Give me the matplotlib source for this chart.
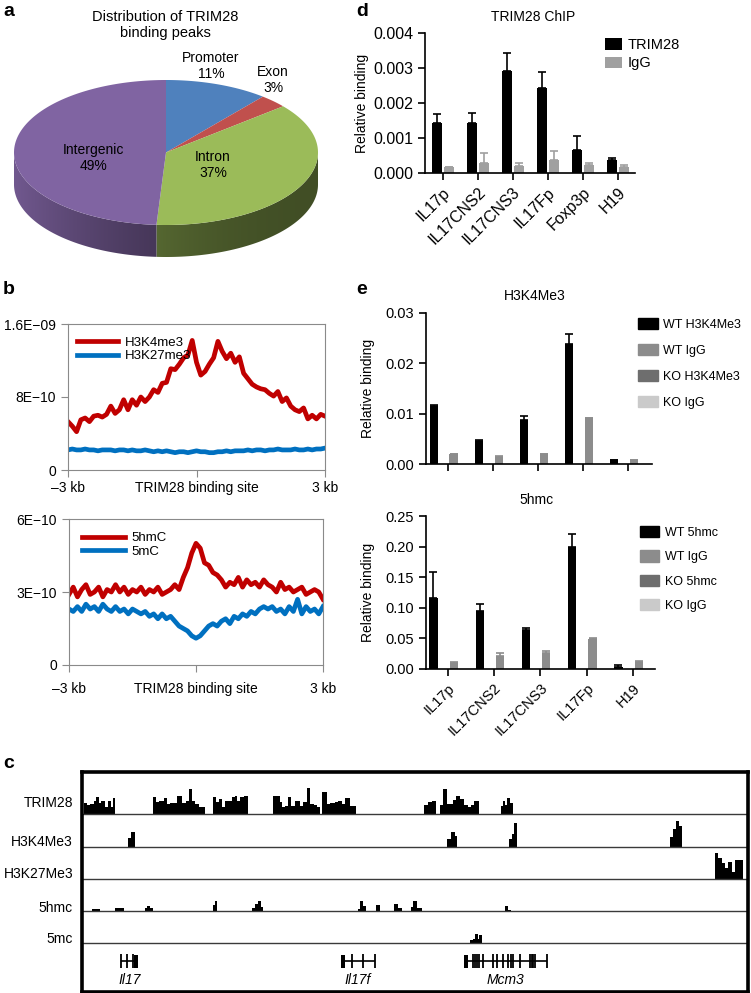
import numpy as np
import matplotlib
matplotlib.use('Agg')
import matplotlib.pyplot as plt
from matplotlib.patches import Polygon, Patch
import matplotlib.colors as mcolors

plt.rcParams['font.family'] = ['Liberation Sans', 'DejaVu Sans']

# ---------------- DATA ----------------
# panel a
pie_labels = ['Promoter', 'Exon', 'Intron', 'Intergenic']
pie_values = [11, 3, 37, 49]
pie_colors = ['#4F81BD', '#C0504D', '#9BBB59', '#8064A2']

# panel b (units of 1e-10), -3 kb .. 3 kb, step 0.1 kb
prof_x = np.linspace(-3, 3, 61)
h3k4me3 = [5.3, 4.8, 4.2, 5.5, 5.7, 5.3, 5.9, 6.0, 5.8, 6.1,
           7.0, 6.2, 6.6, 7.7, 6.6, 7.7, 7.1, 8.0, 7.5, 8.0,
           8.8, 8.5, 9.5, 9.6, 11.1, 11.0, 11.6, 12.3, 12.6, 14.2,
           11.8, 10.4, 10.8, 11.6, 12.3, 14.1, 13.0, 12.2, 12.8, 11.8,
           12.4, 10.6, 10.0, 9.4, 9.1, 8.9, 8.8, 8.4, 8.1, 8.6,
           7.5, 7.9, 7.0, 6.6, 6.4, 6.8, 5.6, 6.0, 5.6, 6.1, 5.9]
h3k27me3 = [2.2, 2.3, 2.2, 2.2, 2.3, 2.2, 2.2, 2.1, 2.2, 2.2,
            2.2, 2.1, 2.2, 2.2, 2.1, 2.2, 2.1, 2.1, 2.2, 2.1,
            2.0, 2.1, 2.0, 2.1, 2.0, 1.9, 2.0, 2.0, 1.9, 2.0,
            2.1, 2.0, 2.0, 1.9, 1.9, 2.0, 2.0, 2.1, 2.0, 2.1,
            2.1, 2.1, 2.2, 2.1, 2.2, 2.2, 2.1, 2.2, 2.2, 2.3,
            2.2, 2.2, 2.2, 2.3, 2.2, 2.2, 2.3, 2.2, 2.3, 2.3, 2.4]
hmc5 = [2.9, 3.2, 2.8, 3.1, 3.3, 2.9, 3.0, 3.2, 2.8, 3.1,
        3.0, 3.3, 3.0, 3.2, 2.9, 3.1, 3.0, 3.2, 2.9, 3.1,
        3.0, 3.2, 2.9, 3.0, 3.1, 3.3, 3.1, 3.6, 4.0, 4.6,
        5.0, 4.8, 4.2, 4.1, 3.8, 3.7, 3.5, 3.2, 3.4, 3.3,
        3.6, 3.2, 3.5, 3.3, 3.4, 3.2, 3.5, 3.3, 3.2, 3.0,
        3.4, 3.1, 3.2, 3.0, 3.1, 3.2, 2.9, 3.0, 3.1, 3.0, 2.7]
mc5 = [2.3, 2.2, 2.4, 2.2, 2.5, 2.3, 2.4, 2.2, 2.5, 2.3,
       2.2, 2.4, 2.2, 2.3, 2.1, 2.3, 2.2, 2.1, 2.2, 2.0,
       2.1, 1.9, 2.1, 1.9, 2.0, 1.8, 1.6, 1.5, 1.4, 1.2,
       1.1, 1.2, 1.4, 1.6, 1.7, 1.6, 1.8, 1.9, 1.7, 2.0,
       1.9, 2.1, 2.0, 2.2, 2.1, 2.3, 2.4, 2.3, 2.4, 2.2,
       2.3, 2.1, 2.4, 2.2, 2.7, 2.1, 2.4, 2.2, 2.3, 2.1, 2.4]

# panel d
d_cats = ['IL17p', 'IL17CNS2', 'IL17CNS3', 'IL17Fp', 'Foxp3p', 'H19']
d_trim28 = [0.00143, 0.00143, 0.00292, 0.00243, 0.00066, 0.00036]
d_trim28_err = [0.00025, 0.00028, 0.00050, 0.00046, 0.00040, 0.00006]
d_igg = [0.00017, 0.00028, 0.00021, 0.00037, 0.00022, 0.00018]
d_igg_err = [0.0, 0.00029, 0.00009, 0.00027, 0.00006, 0.00004]

# panel e
e_cats = ['IL17p', 'IL17CNS2', 'IL17CNS3', 'IL17Fp', 'H19']
h3_wt = [0.0116, 0.0046, 0.0088, 0.0238, 0.0008]
h3_wt_err = [0.0002, 0.0002, 0.0008, 0.0020, 0.0]
h3_igg = [0.0020, 0.0013, 0.0020, 0.0091, 0.0007]
h3_igg_err = [0.0, 0.0003, 0.0, 0.0, 0.0]
hm_wt = [0.1155, 0.0954, 0.0630, 0.1996, 0.0033]
hm_wt_err = [0.0425, 0.0106, 0.0037, 0.0204, 0.0027]
hm_igg = [0.0092, 0.0217, 0.0260, 0.0488, 0.0114]
hm_igg_err = [0.0018, 0.0043, 0.0038, 0.0011, 0.0022]

# panel c: genome browser (locus position 0-100, segment start, end, signal)
trim28_peaks = [
    (0.25, 0.75, 10.7), (0.75, 1.25, 9.3), (1.25, 1.75, 10), (1.75, 2.1, 12.7), (2.1, 2.5, 16.7),
    (2.5, 2.9, 10.7), (2.9, 3.4, 12.7), (3.4, 3.9, 7.3), (3.9, 4.4, 12.7), (4.4, 4.6, 7.3), (4.6, 5.0, 16),
    (10.6, 11.1, 16.7), (11.1, 11.6, 11.7), (11.6, 12.25, 13.3), (12.25, 12.75, 16), (12.75, 13.25, 10),
    (13.25, 14.25, 10.7), (14.25, 15.0, 18.3), (15.0, 15.6, 10.7), (15.6, 16.1, 13.3), (16.1, 16.5, 25),
    (16.5, 17.0, 13.3), (17.0, 17.5, 10), (17.5, 18.0, 7.3), (18.0, 18.4, 6.7),
    (19.65, 20.1, 16.7), (20.1, 20.5, 11.7), (20.5, 21.0, 15), (21.0, 21.5, 6.7), (21.5, 22.0, 12.7),
    (22.0, 22.5, 12.7), (22.5, 22.9, 16.7), (22.9, 23.25, 18.3), (23.25, 23.75, 13.3), (23.75, 24.25, 17.3),
    (24.25, 24.85, 18.3),
    (28.75, 29.75, 18.3), (29.75, 30.0, 11.7), (30.0, 30.5, 6.7), (30.5, 31.0, 8.3), (31.0, 31.4, 17.3),
    (31.4, 32.0, 8.3), (32.0, 32.4, 12.7), (32.4, 32.75, 13.3), (32.75, 33.25, 8.3), (33.25, 33.8, 11.7),
    (33.8, 34.3, 26), (34.3, 34.8, 10), (34.8, 35.3, 9.3), (35.3, 35.8, 6.7), (36.1, 36.75, 21.7),
    (36.75, 37.25, 10), (37.25, 38.0, 10.7), (38.0, 38.5, 11.7), (38.5, 39.0, 12.7), (39.0, 39.5, 10),
    (39.5, 40.25, 16), (40.25, 41.1, 8.3),
    (51.35, 52.0, 9.3), (52.0, 52.5, 11.7), (52.5, 53.1, 12.7), (53.75, 54.15, 9.3), (54.15, 54.85, 25),
    (54.85, 55.65, 10), (55.65, 56.15, 14), (56.15, 56.75, 18.3), (56.75, 57.35, 15), (57.35, 58.0, 9.3),
    (58.0, 58.4, 7.3), (58.4, 58.9, 9.3), (58.9, 59.65, 12.7),
    (62.85, 63.15, 8.3), (63.15, 63.5, 12.7), (63.5, 63.85, 9.3), (63.85, 64.25, 16), (64.25, 64.65, 10.7),
]
h3k4_peaks = [
    (6.85, 7.4, 8.7), (7.4, 7.9, 14.3),
    (54.75, 55.4, 7.7), (55.4, 56.0, 14.3), (56.0, 56.35, 11),
    (64.15, 64.5, 7.7), (64.5, 64.9, 12.7), (64.9, 65.35, 23.3),
    (88.3, 88.8, 9.3), (88.8, 89.2, 17.7), (89.2, 89.7, 26), (89.7, 90.05, 21),
]
h3k27_peaks = [
    (95.05, 95.55, 25.7), (95.55, 96.05, 21), (96.05, 96.55, 15.7), (96.55, 97.05, 11),
    (97.05, 97.55, 16.7), (97.55, 98.05, 6.7), (98.05, 98.55, 19), (98.55, 99.3, 19),
]
hmc_peaks = [
    (1.5, 2.75, 2.3), (5.0, 5.5, 2.7), (5.5, 6.25, 3.3),
    (9.4, 9.75, 3), (9.75, 10.25, 5.3), (10.25, 10.6, 3.5),
    (19.65, 19.9, 5.7), (19.9, 20.3, 10),
    (25.5, 26.0, 3.3), (26.0, 26.4, 7.3), (26.4, 26.9, 10), (26.9, 27.25, 4),
    (41.4, 41.75, 2.3), (41.75, 42.25, 10), (42.25, 42.6, 4.7),
    (44.1, 44.75, 5.7),
    (46.9, 47.4, 7.3), (47.4, 48.1, 3.3),
    (49.4, 49.75, 4), (49.75, 50.25, 10), (50.25, 51.0, 3.3),
    (63.5, 64.0, 5.3), (64.0, 64.4, 1.3),
]
mc_peaks = [
    (58.25, 58.75, 3.3), (58.75, 59.0, 4.3), (59.0, 59.4, 8.7), (59.4, 59.65, 4.3), (59.65, 60.0, 7.7),
]
track_names = ['TRIM28', 'H3K4Me3', 'H3K27Me3', '5hmc', '5mc']
gene_names = ['Il17', 'Il17f', 'Mcm3']
gene_spans = [(5.9, 8.35), (38.9, 44.0), (57.4, 69.75)]
gene_exons = [[5.9, 6.75, 7.6],
              [40.6, 42.25, 44.0],
              [58.75, 59.0, 59.3, 59.6, 60.25, 61.75, 62.25, 63.25, 64.0, 64.4, 64.75,
               65.75, 67.25, 67.5, 67.75, 68.0, 69.75]]
gene_blocks = [(7.85, 8.35), (38.9, 39.5), (57.4, 58.0)]

# ---------------- FIGURE ----------------
W, H = 751, 993
fig = plt.figure(figsize=(W / 100, H / 100), dpi=100)


def rect(x0, y0, x1, y1):
    return [x0 / W, 1 - y1 / H, (x1 - x0) / W, (y1 - y0) / H]


def ftext(x, y, s, **kw):
    return fig.text(x / W, 1 - y / H, s, **kw)


# panel labels
for lab, (lx, ly) in zip('abcde', [(9, 12), (9, 290), (9, 764), (362, 11), (362, 290)]):
    ftext(lx, ly, lab, fontsize=14, fontweight='bold', ha='center', va='center')

# ---- panel a: 3D-like pie ----
axa = fig.add_axes(rect(0, 0, 340, 270))
cx, cy, ra, rb, depth = 166, 152.5, 152, 72.5, 32
fr = np.array(pie_values, float) / sum(pie_values)
bounds = np.concatenate([[0], np.cumsum(fr)]) * 2 * np.pi


def ell(t):
    return cx + ra * np.sin(t), cy - rb * np.cos(t)


svals = np.linspace(0, 1, 300)
shade = 0.42 + 0.46 * (1 - svals) ** 2
for i in range(len(pie_values)):
    t0, t1 = max(bounds[i], np.pi / 2), min(bounds[i + 1], 1.5 * np.pi)
    if t1 <= t0:
        continue
    ts = np.linspace(t0, t1, 200)
    xs, ys = ell(ts)
    pts = list(zip(xs, ys)) + list(zip(xs[::-1], ys[::-1] + depth))
    side = Polygon(pts, closed=True, facecolor='none', edgecolor='none')
    axa.add_patch(side)
    base = np.array(mcolors.to_rgb(pie_colors[i]))
    img = np.clip(shade[None, :, None] * base[None, None, :], 0, 1)
    im = axa.imshow(img, extent=(cx - ra, cx + ra, cy + rb + depth + 2, cy - 2),
                    aspect='auto', interpolation='bilinear', zorder=1)
    im.set_clip_path(side)
for i in range(len(pie_values)):
    ts = np.linspace(bounds[i], bounds[i + 1], 120)
    xs, ys = ell(ts)
    pts = [(cx, cy)] + list(zip(xs, ys))
    axa.add_patch(Polygon(pts, closed=True, facecolor=pie_colors[i], edgecolor='none', zorder=2))

pie_label_pos = [(211, 66), (273, 80), (213, 165), (93, 158)]
for lab, v, (lx, ly) in zip(pie_labels, pie_values, pie_label_pos):
    axa.text(lx, ly, f'{lab}\n{v}%', ha='center', va='center', fontsize=10, linespacing=1.15,
             zorder=3)
axa.set_xlim(0, 340)
axa.set_ylim(270, 0)
axa.axis('off')
ftext(165, 25, 'Distribution of TRIM28\nbinding peaks', ha='center', va='center',
      fontsize=10.5, linespacing=1.2)

# ---- panel b ----
red, blue = '#C00000', '#0070C0'


def style_profile(ax, pad_x):
    for sp in ax.spines.values():
        sp.set_color('#8a8a8a')
        sp.set_linewidth(0.8)
    ax.tick_params(axis='both', direction='out', length=5, width=0.8, color='#8a8a8a',
                   labelsize=10)
    ax.tick_params(axis='x', pad=pad_x)
    ax.set_xlim(-3, 3)
    ax.set_xticks([-3, 0, 3])
    ax.set_xticklabels(['–3 kb', 'TRIM28 binding site', '3 kb'])


axb1 = fig.add_axes(rect(68, 324, 325, 470))
axb1.plot(prof_x, np.array(h3k4me3) * 1e-10, color=red, lw=3.4, label='H3K4me3')
axb1.plot(prof_x, np.array(h3k27me3) * 1e-10, color=blue, lw=3.4, label='H3K27me3')
axb1.set_ylim(0, 1.6e-9)
axb1.set_yticks([0, 8e-10, 1.6e-9])
axb1.set_yticklabels(['0', '8E\u221210', '1.6E\u221209'])
style_profile(axb1, 3)
axb1.legend(loc='upper left', bbox_to_anchor=(0.035, 0.915), frameon=False, handlelength=3.1,
            fontsize=9.5, labelspacing=0.1, borderaxespad=0, borderpad=0, handletextpad=0.5)

axb2 = fig.add_axes(rect(69, 519, 323, 665))
axb2.plot(prof_x, np.array(hmc5) * 1e-10, color=red, lw=3.4, label='5hmC')
axb2.plot(prof_x, np.array(mc5) * 1e-10, color=blue, lw=3.4, label='5mC')
axb2.set_ylim(0, 6e-10)
axb2.set_yticks([0, 3e-10, 6e-10])
axb2.set_yticklabels(['0', '3E\u221210', '6E\u221210'])
style_profile(axb2, 7)
axb2.legend(loc='upper left', bbox_to_anchor=(0.05, 0.91), frameon=False, handlelength=3.3,
            fontsize=9.5, labelspacing=0.1, borderaxespad=0, borderpad=0, handletextpad=0.5)


# ---- bar panels ----
def style_bar(ax, fs):
    for s in ['top', 'right']:
        ax.spines[s].set_visible(False)
    for s in ['left', 'bottom']:
        ax.spines[s].set_linewidth(1.2)
    ax.tick_params(axis='both', direction='out', length=5, width=1.2, labelsize=fs)


def draw_err(ax, x, y, err, color):
    n = len(y)
    ax.errorbar(x, y, yerr=[np.zeros(n), err], fmt='none', ecolor=color,
                elinewidth=1.2, capsize=3, capthick=1.2)


# panel d
axd = fig.add_axes(rect(425, 33, 635, 173))
xd = np.arange(len(d_cats))
axd.bar(xd - 0.16, d_trim28, width=0.29, color='black', label='TRIM28')
axd.bar(xd + 0.18, d_igg, width=0.29, color='#A0A0A0', label='IgG')
draw_err(axd, xd - 0.16, d_trim28, d_trim28_err, 'black')
draw_err(axd, xd + 0.18, d_igg, d_igg_err, '#A0A0A0')
axd.set_xlim(-0.5, len(d_cats) - 0.5)
axd.set_ylim(0, 0.004)
axd.set_yticks(np.arange(0, 0.0041, 0.001))
axd.yaxis.set_major_formatter(matplotlib.ticker.FormatStrFormatter('%.3f'))
axd.set_xticks(xd)
axd.set_xticklabels(d_cats, rotation=45, ha='right', va='top', rotation_mode='anchor')
style_bar(axd, 11.5)
axd.legend(loc='upper left', bbox_to_anchor=(605 / W, 1 - 38 / H), bbox_transform=fig.transFigure,
           frameon=False, fontsize=10.5, handlelength=1.15, handleheight=0.8,
           labelspacing=0.3, borderpad=0, borderaxespad=0, handletextpad=0.4)
ftext(533, 17, 'TRIM28 ChIP', ha='center', va='center', fontsize=10)
ftext(362, 103, 'Relative binding', ha='center', va='center', rotation=90, fontsize=10)

# panel e
xe = np.arange(len(e_cats))
wt_c, igg_c, ko_c, koigg_c = 'black', '#8C8C8C', '#6E6E6E', '#CACACA'

axe1 = fig.add_axes(rect(426, 313, 652, 464))
axe1.bar(xe - 0.31, h3_wt, width=0.18, color=wt_c)
axe1.bar(xe + 0.13, h3_igg, width=0.18, color=igg_c)
draw_err(axe1, xe - 0.31, h3_wt, h3_wt_err, wt_c)
draw_err(axe1, xe + 0.13, h3_igg, h3_igg_err, igg_c)
axe1.set_xlim(-0.48, 4.53)
axe1.set_ylim(0, 0.03)
axe1.set_yticks([0, 0.01, 0.02, 0.03])
axe1.yaxis.set_major_formatter(matplotlib.ticker.FormatStrFormatter('%.2f'))
axe1.set_xticks(xe)
axe1.set_xticklabels([])
style_bar(axe1, 10.5)
h1 = [Patch(color=c) for c in [wt_c, igg_c, ko_c, koigg_c]]
axe1.legend(h1, ['WT H3K4Me3', 'WT IgG', 'KO H3K4Me3', 'KO IgG'], loc='upper left',
            bbox_to_anchor=(638 / W, 1 - 318 / H), bbox_transform=fig.transFigure,
            frameon=False, fontsize=9, handlelength=1.6, handleheight=1.0,
            labelspacing=1.05, borderpad=0, borderaxespad=0, handletextpad=0.4)
ftext(535, 296, 'H3K4Me3', ha='center', va='center', fontsize=10)
ftext(368, 388, 'Relative binding', ha='center', va='center', rotation=90, fontsize=10)

axe2 = fig.add_axes(rect(426, 516, 655, 669))
axe2.bar(xe - 0.31, hm_wt, width=0.18, color=wt_c)
axe2.bar(xe + 0.13, hm_igg, width=0.18, color=igg_c)
draw_err(axe2, xe - 0.31, hm_wt, hm_wt_err, wt_c)
draw_err(axe2, xe + 0.13, hm_igg, hm_igg_err, igg_c)
axe2.set_xlim(-0.47, 4.48)
axe2.set_ylim(0, 0.25)
axe2.set_yticks(np.arange(0, 0.251, 0.05))
axe2.yaxis.set_major_formatter(matplotlib.ticker.FormatStrFormatter('%.2f'))
axe2.set_xticks(xe)
axe2.set_xticklabels(e_cats, rotation=45, ha='right', va='top', rotation_mode='anchor')
style_bar(axe2, 10.5)
axe2.legend(h1, ['WT 5hmc', 'WT IgG', 'KO 5hmc', 'KO IgG'], loc='upper left',
            bbox_to_anchor=(640 / W, 1 - 526 / H), bbox_transform=fig.transFigure,
            frameon=False, fontsize=9, handlelength=1.5, handleheight=1.0,
            labelspacing=0.92, borderpad=0, borderaxespad=0, handletextpad=0.5)
ftext(536, 500, '5hmc', ha='center', va='center', fontsize=10)
ftext(368, 592, 'Relative binding', ha='center', va='center', rotation=90, fontsize=10)

# ---- panel c: genome browser ----
axc = fig.add_axes(rect(82, 772, 748, 992))
axc.set_xlim(0, 100)
axc.set_ylim(220, 0)
axc.set_xticks([])
axc.set_yticks([])
for sp in axc.spines.values():
    sp.set_linewidth(2.6)
track_base = [42, 74.5, 107, 139, 171]
label_off = [11, 5, 5, 3, 4]
for name, base, off, peaks in zip(track_names, track_base, label_off,
                                  [trim28_peaks, h3k4_peaks, h3k27_peaks, hmc_peaks, mc_peaks]):
    arr = np.array(peaks, float)
    axc.bar(arr[:, 0], -arr[:, 2], width=arr[:, 1] - arr[:, 0], bottom=base, align='edge',
            color='black', linewidth=0)
    axc.axhline(base, color='#3a3a3a', lw=1.0)
    axc.text(-1.35, base - off, name, ha='right', va='center', fontsize=10, clip_on=False)

gene_y = 189
for name, (g0, g1), exons, (b0, b1) in zip(gene_names, gene_spans, gene_exons, gene_blocks):
    axc.hlines(gene_y, g0, g1, color='black', lw=1.2)
    axc.vlines(exons, gene_y - 7, gene_y + 7, color='black', lw=1.3)
    axc.bar(b0, 13, width=b1 - b0, bottom=gene_y - 6.5, align='edge', color='black', linewidth=0)
    axc.text((g0 + g1) / 2, 208, name, ha='center', va='center', fontsize=10, style='italic')

fig.savefig('out.png', dpi=100)
